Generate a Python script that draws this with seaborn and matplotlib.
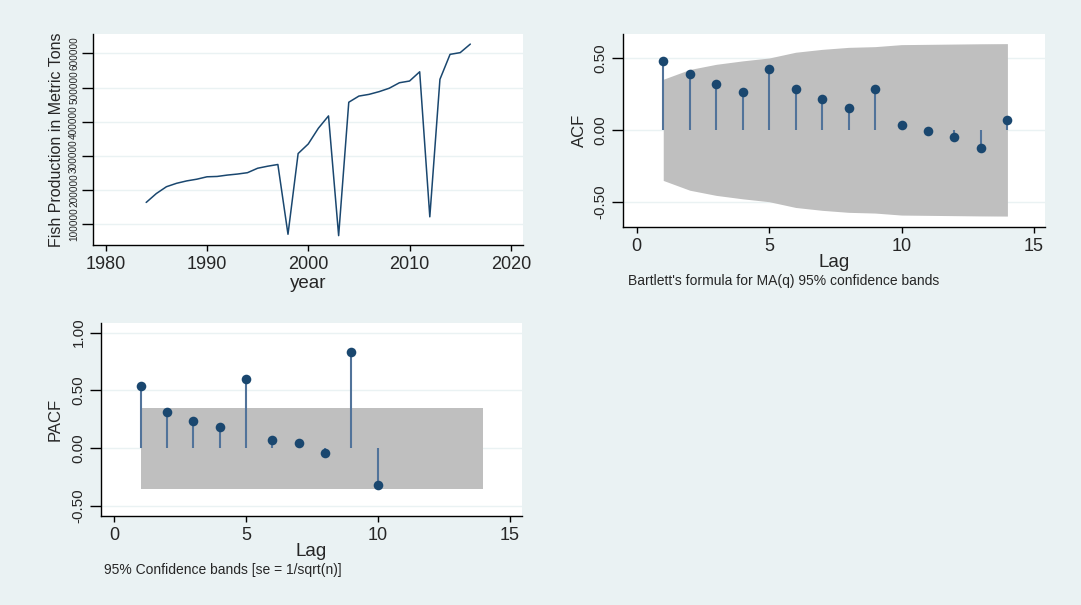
import numpy as np
import pandas as pd
import matplotlib
matplotlib.use("Agg")
import matplotlib.pyplot as plt
import seaborn as sns

# -----------------------------
# data
# -----------------------------
years = list(range(1984, 2017))
fish = [164000, 190000, 210000, 220000, 227000, 232000, 239000, 240000, 244000,
        247000, 251000, 264000, 270000, 275000, 71000, 307000, 335000, 381000,
        417000, 67000, 457000, 475000, 480000, 488000, 498000, 514000, 519000,
        546000, 122000, 524000, 597000, 602000, 627000]

acf_lags = list(range(1, 15))
acf_vals = [0.479, 0.391, 0.319, 0.262, 0.426, 0.282, 0.218, 0.150, 0.287,
            0.032, -0.005, -0.053, -0.125, 0.072]
acf_band = [0.352, 0.420, 0.456, 0.480, 0.500, 0.540, 0.560, 0.574, 0.579,
            0.593, 0.595, 0.597, 0.599, 0.600]

pacf_lags = list(range(1, 11))
pacf_vals = [0.542, 0.314, 0.239, 0.182, 0.597, 0.069, 0.043, -0.040, 0.833, -0.314]
pacf_band_lags = [1, 14]
pacf_band = [0.352, 0.352]

acf_note = "Bartlett's formula for MA(q) 95% confidence bands"
pacf_note = "95% Confidence bands [se = 1/sqrt(n)]"

# colours
BG = "#EAF2F3"
NAVY = "#1A476F"
STEM = "#51739A"
BAND = "#BFBFBF"

sns.set_style("white")
plt.rcParams["font.family"] = ["Liberation Sans", "DejaVu Sans"]

fig = plt.figure(figsize=(10.81, 6.05), dpi=100, facecolor=BG)
W, H = 1081, 605


def make_axes(left, top, right, bottom):
    return fig.add_axes([left / W, 1 - bottom / H, (right - left) / W, (bottom - top) / H])


def style(ax, ylab_x):
    ax.set_facecolor("white")
    for s in ["top", "right"]:
        ax.spines[s].set_visible(False)
    for s in ["left", "bottom"]:
        ax.spines[s].set_color("black")
        ax.spines[s].set_linewidth(1.0)
    ax.tick_params(axis="x", direction="out", length=4, width=1, color="black",
                   labelsize=13, pad=4, bottom=True)
    ax.tick_params(axis="y", direction="out", length=8, width=1, color="black",
                   labelsize=11, pad=3, left=True, labelrotation=90)
    for lab in ax.get_yticklabels():
        lab.set_va("center")
    ax.grid(axis="y", color=BG, linewidth=1.0)
    ax.grid(axis="x", visible=False)
    ax.set_axisbelow(True)
    ax.yaxis.set_label_coords(ylab_x, 0.5)


# -----------------------------
# top left: fish production series
# -----------------------------
ax1 = make_axes(93, 34, 523, 245)
df = pd.DataFrame({"year": years, "fish": fish})
sns.lineplot(data=df, x="year", y="fish", ax=ax1, color=NAVY, linewidth=1.1)
ax1.set_xlim(1978.75, 2021.2)
ax1.set_ylim(39600, 656500)
ax1.set_xticks([1980, 1990, 2000, 2010, 2020])
ax1.set_yticks([100000, 200000, 300000, 400000, 500000, 600000])
ax1.set_yticklabels(["100000", "200000", "300000", "400000", "500000", "600000"])
ax1.set_ylabel("Fish Production in Metric Tons", fontsize=11.5)
ax1.set_xlabel("year", fontsize=13.5)
style(ax1, -0.068)
ax1.tick_params(axis="y", labelsize=7.2, pad=2)
ax1.xaxis.set_label_coords(0.5, -0.14)

# -----------------------------
# top right: ACF
# -----------------------------
ax2 = make_axes(623, 34, 1045, 227)
ax2.fill_between(acf_lags, [-b for b in acf_band], acf_band, color=BAND, linewidth=0, zorder=1)
ax2.vlines(acf_lags, 0, acf_vals, color=STEM, linewidth=1.5, zorder=2)
sns.scatterplot(x=acf_lags, y=acf_vals, ax=ax2, color=NAVY, s=48, marker="o",
                edgecolor=NAVY, linewidth=0, zorder=3)
ax2.set_xlim(-0.52, 15.42)
ax2.set_ylim(-0.676, 0.667)
ax2.set_xticks([0, 5, 10, 15])
ax2.set_yticks([-0.5, 0.0, 0.5])
ax2.set_yticklabels(["-0.50", "0.00", "0.50"])
ax2.set_ylabel("ACF", fontsize=12)
ax2.set_xlabel("Lag", fontsize=13.5)
style(ax2, -0.085)
ax2.xaxis.set_label_coords(0.5, -0.142)
fig.text(628 / W, 1 - 281 / H, acf_note, fontsize=10, ha="left", va="center")

# -----------------------------
# bottom left: PACF
# -----------------------------
ax3 = make_axes(101, 323, 522, 516)
ax3.fill_between(pacf_band_lags, [-b for b in pacf_band], pacf_band, color=BAND,
                 linewidth=0, zorder=1)
ax3.vlines(pacf_lags, 0, pacf_vals, color=STEM, linewidth=1.5, zorder=2)
sns.scatterplot(x=pacf_lags, y=pacf_vals, ax=ax3, color=NAVY, s=48, marker="o",
                edgecolor=NAVY, linewidth=0, zorder=3)
ax3.set_xlim(-0.505, 15.47)
ax3.set_ylim(-0.585, 1.083)
ax3.set_xticks([0, 5, 10, 15])
ax3.set_yticks([-0.5, 0.0, 0.5, 1.0])
ax3.set_yticklabels(["-0.50", "0.00", "0.50", "1.00"])
ax3.set_ylabel("PACF", fontsize=12)
ax3.set_xlabel("Lag", fontsize=13.5)
style(ax3, -0.09)
ax3.xaxis.set_label_coords(0.5, -0.14)
fig.text(104 / W, 1 - 570 / H, pacf_note, fontsize=10, ha="left", va="center")

fig.savefig("out.png", dpi=100, facecolor=BG)
